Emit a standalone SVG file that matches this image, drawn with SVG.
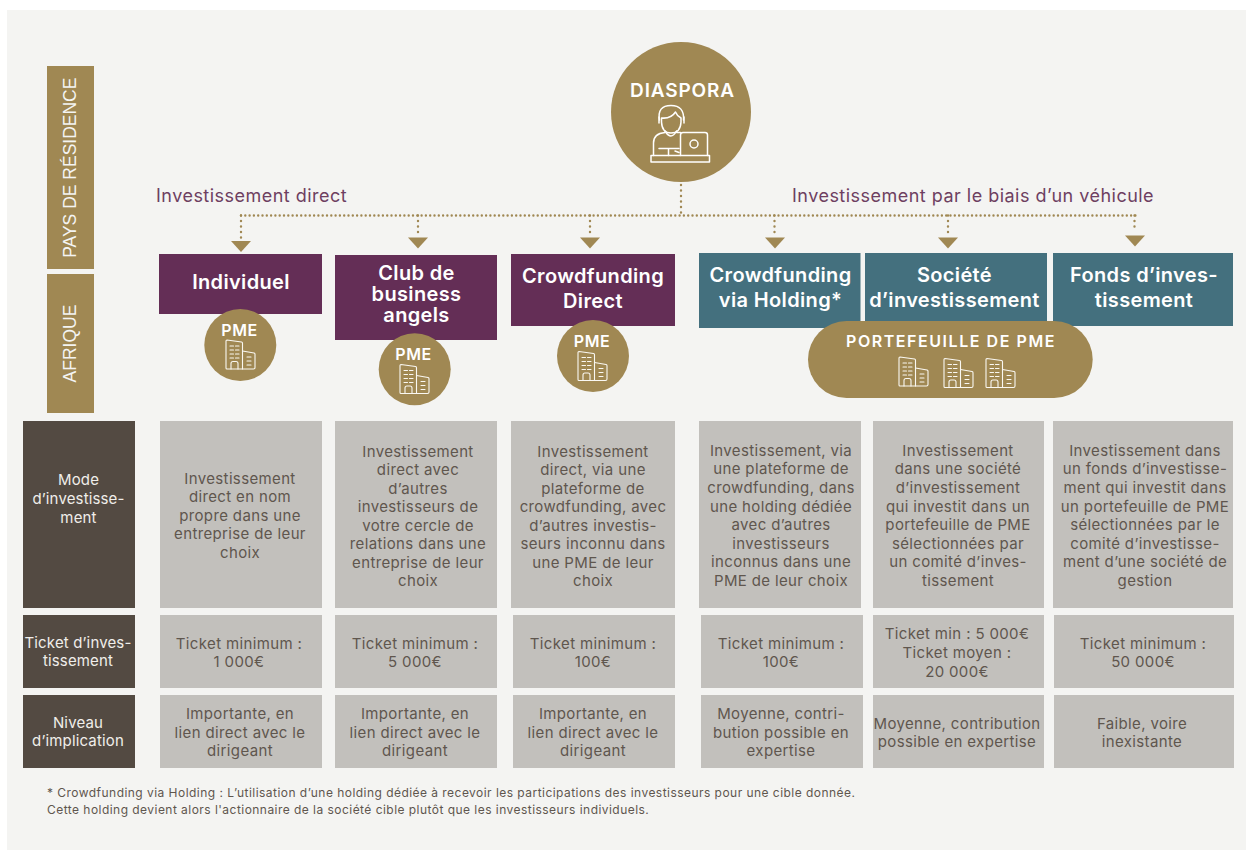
<svg xmlns="http://www.w3.org/2000/svg" xmlns:xlink="http://www.w3.org/1999/xlink" width="1246" height="850" viewBox="0 0 1246 850">
<style>
text{font-family:Inter,"Noto Sans","Liberation Sans",sans-serif;text-anchor:middle}
.gold{fill:#A08853}.pur{fill:#642E56}.teal{fill:#44707E}.brn{fill:#534A42}.gry{fill:#C2C0BC}
.hd{fill:#fff;font-size:20px;font-weight:600;letter-spacing:.35px}
.c{fill:#5F564E;font-size:15px;letter-spacing:.36px}
.l{fill:#F0EEEA;font-size:15px;letter-spacing:.15px}
.lab{fill:#6E3F61;font-size:18px;letter-spacing:.48px;text-anchor:start}
.fn{fill:#5F564E;font-size:12px;letter-spacing:.46px;text-anchor:start}
.pme{fill:#fff;font-size:16px;font-weight:600;letter-spacing:.5px}
.side{fill:#F4F4F2;font-size:17.5px;font-family:"Liberation Sans",Arial,sans-serif}
.dot{fill:none;stroke:#A08853;stroke-width:2.4;stroke-linecap:round;stroke-dasharray:0 4.3}
.dotv{fill:none;stroke:#A08853;stroke-width:2.4;stroke-linecap:round;stroke-dasharray:0 5.5}
.ic{fill:none;stroke:#fff;stroke-width:1.5;stroke-linejoin:round;stroke-linecap:round}
.bl{fill:none;stroke:#FAF8F2;stroke-width:1.1;stroke-linejoin:round;stroke-linecap:round}
</style>
<defs>
<g id="bld" class="bl">
<path d="M16.5,29H1Q0,29 0,28V1Q0,0 1,0L15.5,2Q16.5,2.2 16.5,3.2Z"/>
<path d="M16.5,11L28,13Q29,13.2 29,14.2V27.5Q29,29 27.500,29H16.5"/>
<path d="M5,29V23.5Q5,21.5 7,21.5H10Q12,21.5 12,23.5V29"/>
<path d="M4,6H7.5M9.5,6H13M4,10H7.5M9.5,10H13M4,14H7.5M9.5,14H13M4,18H7.5M9.5,18H13M21,17H25M21,21H25M21,25H25"/>
</g>
</defs>
<rect x="7" y="10" width="1239" height="840" fill="#F4F4F2"/>
<g id="connectors">
<path class="dotv" d="M681,185V213"/>
<path class="dot" d="M241,215.5H1136"/>
<path class="dotv" d="M241,215.5V238M418,215.5V234M590,215.5V234M774.500,215.500V234M948,215.500V234M1134.500,215.500V232"/>
<g class="gold">
<polygon points="231,241 251,241 241,252"/>
<polygon points="408,237.500 428,237.500 418,248.500"/>
<polygon points="580,237.500 600,237.500 590,248.500"/>
<polygon points="765,237.500 785,237.500 775,248.500"/>
<polygon points="938,237.500 958,237.500 948,248.500"/>
<polygon points="1125,235.500 1145,235.500 1135,246.500"/>
</g>
</g>
<g id="side-residence"><rect class="gold" x="47" y="66" width="47" height="203"/><text class="side" transform="translate(76.300,167.700) rotate(-90)">PAYS DE RÉSIDENCE</text></g>
<g id="side-afrique"><rect class="gold" x="47" y="274" width="47" height="139"/><text class="side" transform="translate(76.300,343.500) rotate(-90)">AFRIQUE</text></g>
<g id="diaspora">
<circle class="gold" cx="681" cy="112" r="70"/>
<text class="hd" x="682.500" y="97" style="font-size:19px;letter-spacing:.85px">DIASPORA</text>
<g class="ic">
<rect x="651" y="155.500" width="58.500" height="6.500"/>
<path d="M680.500,155.500V135Q680.500,132.500 683,132.500H705Q707.500,132.500 707.500,135V155.500"/>
<circle cx="694" cy="144" r="4"/>
<path d="M653.500,155.500V143Q653.500,133.500 665,132.500M676.500,132.500H680.500"/>
<path d="M665,131Q671,141 676.500,131"/>
<path d="M659,117V123M684,117V123"/>
<path d="M659.500,120Q657,105.500 671,105.500Q684.500,105.500 683.500,120"/>
<path d="M661.500,118V122Q662,133 671,133Q680.500,133 681,122V118Q677,116 675.500,112Q671,119 661.500,118Z"/>
<path d="M659,148.500H679M668.500,148.500V155.500M675,151L679,152.500"/>
</g>
</g>
<g id="individuel"><rect class="pur" x="159" y="254" width="163" height="60"/><text class="hd" x="241" y="289">Individuel</text></g>
<g id="pme1"><circle class="gold" cx="240.300" cy="345" r="36"/><text class="pme" x="239.500" y="336">PME</text><use href="#bld" x="226" y="340"/></g>
<g id="club"><rect class="pur" x="335" y="255" width="162" height="85"/><text class="hd" x="416.500" y="280">Club de</text><text class="hd" x="416.500" y="301">business</text><text class="hd" x="416.500" y="322">angels</text></g>
<g id="pme2"><circle class="gold" cx="414.700" cy="369.300" r="36"/><text class="pme" x="413.500" y="360">PME</text><use href="#bld" x="400" y="364.500"/></g>
<g id="crowd-direct"><rect class="pur" x="511" y="254" width="164" height="72"/><text class="hd" x="593" y="283">Crowdfunding</text><text class="hd" x="593" y="308">Direct</text></g>
<g id="pme3"><circle class="gold" cx="593" cy="356" r="36"/><text class="pme" x="592" y="347">PME</text><use href="#bld" x="578" y="351.500"/></g>
<g id="crowd-holding"><rect class="teal" x="699" y="253" width="161.500" height="75"/><text class="hd" x="780.500" y="282">Crowdfunding</text><text class="hd" x="780.500" y="307">via Holding*</text></g>
<g id="societe"><rect class="teal" x="865" y="253" width="182" height="72"/><text class="hd" x="954.500" y="282">Société</text><text class="hd" x="954.500" y="307">d’investissement</text></g>
<g id="fonds"><rect class="teal" x="1053" y="253" width="180" height="73"/><text class="hd" x="1144" y="282">Fonds d’inves-</text><text class="hd" x="1144" y="307">tissement</text></g>
<g id="portefeuille">
<rect class="gold" x="808" y="321" width="284.700" height="77" rx="38.500"/>
<text class="pme" x="951" y="347" style="letter-spacing:1.55px">PORTEFEUILLE DE PME</text>
<use href="#bld" x="899" y="357"/><use href="#bld" x="944" y="358.500"/><use href="#bld" x="986" y="358.500"/>
</g>
<text class="lab" x="156" y="202">Investissement direct</text>
<text class="lab" x="792" y="202">Investissement par le biais d’un véhicule</text>
<g id="row-mode">
<rect class="brn" x="23" y="421" width="112" height="187"/>
<text class="l" x="78.500" y="485">Mode</text><text class="l" x="78.500" y="504">d’investisse-</text><text class="l" x="78.500" y="523">ment</text>
<rect class="gry" x="160" y="421" width="162" height="187"/>
<text class="c" x="240" y="484">Investissement</text><text class="c" x="240" y="502">direct en nom</text><text class="c" x="240" y="521">propre dans une</text><text class="c" x="240" y="539">entreprise de leur</text><text class="c" x="240" y="558">choix</text>
<rect class="gry" x="335" y="421" width="162" height="187"/>
<text class="c" x="418" y="457">Investissement</text><text class="c" x="418" y="475">direct avec</text><text class="c" x="418" y="494">d’autres</text><text class="c" x="418" y="512">investisseurs de</text><text class="c" x="418" y="531">votre cercle de</text><text class="c" x="418" y="549">relations dans une</text><text class="c" x="418" y="568">entreprise de leur</text><text class="c" x="418" y="586">choix</text>
<rect class="gry" x="511" y="421" width="164" height="187"/>
<text class="c" x="593" y="457">Investissement</text><text class="c" x="593" y="475">direct, via une</text><text class="c" x="593" y="494">plateforme de</text><text class="c" x="593" y="512">crowdfunding, avec</text><text class="c" x="593" y="531">d’autres investis-</text><text class="c" x="593" y="549">seurs inconnu dans</text><text class="c" x="593" y="568">une PME de leur</text><text class="c" x="593" y="586">choix</text>
<rect class="gry" x="699" y="421" width="162" height="187"/>
<text class="c" x="781" y="456">Investissement, via</text><text class="c" x="781" y="474">une plateforme de</text><text class="c" x="781" y="493">crowdfunding, dans</text><text class="c" x="781" y="512">une holding dédiée</text><text class="c" x="781" y="530">avec d’autres</text><text class="c" x="781" y="549">investisseurs</text><text class="c" x="781" y="567">inconnus dans une</text><text class="c" x="781" y="586">PME de leur choix</text>
<rect class="gry" x="873" y="421" width="171" height="187"/>
<text class="c" x="958" y="456">Investissement</text><text class="c" x="958" y="474">dans une société</text><text class="c" x="958" y="493">d’investissement</text><text class="c" x="958" y="512">qui investit dans un</text><text class="c" x="958" y="530">portefeuille de PME</text><text class="c" x="958" y="549">sélectionnées par</text><text class="c" x="958" y="567">un comité d’inves-</text><text class="c" x="958" y="586">tissement</text>
<rect class="gry" x="1053" y="421" width="180" height="187"/>
<text class="c" x="1145" y="456">Investissement dans</text><text class="c" x="1145" y="474">un fonds d’investisse-</text><text class="c" x="1145" y="493">ment qui investit dans</text><text class="c" x="1145" y="512">un portefeuille de PME</text><text class="c" x="1145" y="530">sélectionnées par le</text><text class="c" x="1145" y="549">comité d’investisse-</text><text class="c" x="1145" y="567">ment d’une société de</text><text class="c" x="1145" y="586">gestion</text>
</g>
<g id="row-ticket">
<rect class="brn" x="23" y="615" width="112" height="73"/>
<text class="l" x="78" y="648">Ticket d’inves-</text><text class="l" x="78" y="666">tissement</text>
<rect class="gry" x="160" y="615" width="162" height="73"/>
<text class="c" x="239" y="649">Ticket minimum :</text><text class="c" x="239" y="667">1 000€</text>
<rect class="gry" x="335" y="615" width="162" height="73"/>
<text class="c" x="415" y="649">Ticket minimum :</text><text class="c" x="415" y="667">5 000€</text>
<rect class="gry" x="513" y="615" width="162" height="73"/>
<text class="c" x="593" y="649">Ticket minimum :</text><text class="c" x="593" y="667">100€</text>
<rect class="gry" x="701" y="615" width="162" height="73"/>
<text class="c" x="781" y="649">Ticket minimum :</text><text class="c" x="781" y="667">100€</text>
<rect class="gry" x="873" y="615" width="171" height="73"/>
<text class="c" x="957" y="639">Ticket min : 5 000€</text><text class="c" x="957" y="658">Ticket moyen :</text><text class="c" x="957" y="677">20 000€</text>
<rect class="gry" x="1054" y="615" width="180" height="73"/>
<text class="c" x="1143" y="649">Ticket minimum :</text><text class="c" x="1143" y="667">50 000€</text>
</g>
<g id="row-niveau">
<rect class="brn" x="23" y="695" width="112" height="73"/>
<text class="l" x="78" y="728">Niveau</text><text class="l" x="78" y="746">d’implication</text>
<rect class="gry" x="160" y="695" width="162" height="73"/>
<text class="c" x="240" y="719">Importante, en</text><text class="c" x="240" y="738">lien direct avec le</text><text class="c" x="240" y="756">dirigeant</text>
<rect class="gry" x="335" y="695" width="162" height="73"/>
<text class="c" x="415" y="719">Importante, en</text><text class="c" x="415" y="738">lien direct avec le</text><text class="c" x="415" y="756">dirigeant</text>
<rect class="gry" x="513" y="695" width="162" height="73"/>
<text class="c" x="593" y="719">Importante, en</text><text class="c" x="593" y="738">lien direct avec le</text><text class="c" x="593" y="756">dirigeant</text>
<rect class="gry" x="701" y="695" width="162" height="73"/>
<text class="c" x="781" y="719">Moyenne, contri-</text><text class="c" x="781" y="738">bution possible en</text><text class="c" x="781" y="756">expertise</text>
<rect class="gry" x="873" y="695" width="171" height="73"/>
<text class="c" x="957" y="729">Moyenne, contribution</text><text class="c" x="957" y="747">possible en expertise</text>
<rect class="gry" x="1054" y="695" width="180" height="73"/>
<text class="c" x="1142" y="729">Faible, voire</text><text class="c" x="1142" y="747">inexistante</text>
</g>
<text class="fn" x="47" y="797">* Crowdfunding via Holding : L’utilisation d’une holding dédiée à recevoir les participations des investisseurs pour une cible donnée.</text>
<text class="fn" x="47" y="814">Cette holding devient alors l'actionnaire de la société cible plutôt que les investisseurs individuels.</text>
</svg>
